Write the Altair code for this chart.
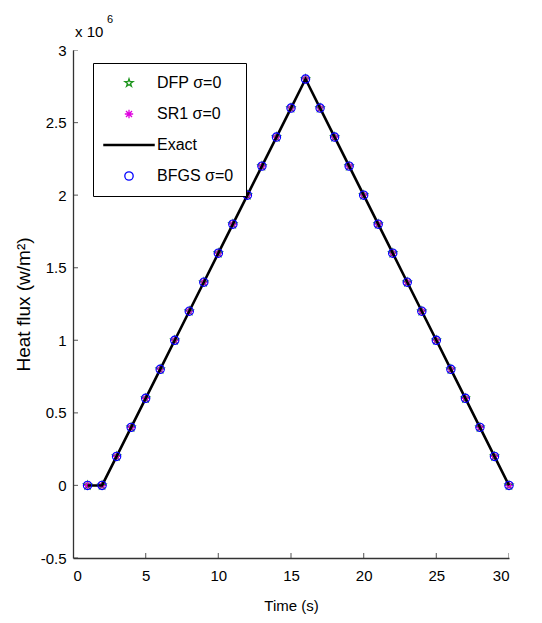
import altair as alt
import pandas as pd

# Time (s)
t = list(range(1, 31))
# Heat flux, in units of 10^6 W/m^2
exact = [0.0, 0.0, 0.2, 0.4, 0.6, 0.8, 1.0, 1.2, 1.4, 1.6, 1.8, 2.0, 2.2, 2.4, 2.6, 2.8,
         2.6, 2.4, 2.2, 2.0, 1.8, 1.6, 1.4, 1.2, 1.0, 0.8, 0.6, 0.4, 0.2, 0.0]
dfp = [0.0, 0.0, 0.2, 0.4, 0.6, 0.8, 1.0, 1.2, 1.4, 1.6, 1.8, 2.0, 2.2, 2.4, 2.6, 2.8,
       2.6, 2.4, 2.2, 2.0, 1.8, 1.6, 1.4, 1.2, 1.0, 0.8, 0.6, 0.4, 0.2, 0.0]
sr1 = [0.0, 0.0, 0.2, 0.4, 0.6, 0.8, 1.0, 1.2, 1.4, 1.6, 1.8, 2.0, 2.2, 2.4, 2.6, 2.8,
       2.6, 2.4, 2.2, 2.0, 1.8, 1.6, 1.4, 1.2, 1.0, 0.8, 0.6, 0.4, 0.2, 0.0]
bfgs = [0.0, 0.0, 0.2, 0.4, 0.6, 0.8, 1.0, 1.2, 1.4, 1.6, 1.8, 2.0, 2.2, 2.4, 2.6, 2.8,
        2.6, 2.4, 2.2, 2.0, 1.8, 1.6, 1.4, 1.2, 1.0, 0.8, 0.6, 0.4, 0.2, 0.0]

series_names = ["DFP σ=0", "SR1 σ=0", "Exact", "BFGS σ=0"]
series_colors = ["#1e961e", "#e000e0", "#000000", "#0000ff"]
x_ticks = [0, 5, 10, 15, 20, 25, 30]
y_ticks = [-0.5, 0, 0.5, 1, 1.5, 2, 2.5, 3]

STAR = ("M0,-1L0.2245,-0.309L0.9511,-0.309L0.3633,0.118L0.5878,0.809L0,0.382"
        "L-0.5878,0.809L-0.3633,0.118L-0.9511,-0.309L-0.2245,-0.309Z")
ASTER = "M0,-1L0,1M-1,0L1,0M-0.72,-0.72L0.72,0.72M-0.72,0.72L0.72,-0.72"
BAR = "M-6,-0.15L6,-0.15L6,0.15L-6,0.15Z"
series_shapes = [STAR, ASTER, BAR, "circle"]

FONT = "Liberation Sans"
AXIS_COLOR = "#333333"

pts_a = pd.DataFrame({"t": t * 2, "q": dfp + sr1,
                      "series": [series_names[0]] * 30 + [series_names[1]] * 30})
pts_b = pd.DataFrame({"t": t, "q": bfgs, "series": [series_names[3]] * 30})
line_df = pd.DataFrame({"t": t, "q": exact})

xs = alt.Scale(domain=[0, 30], nice=False, zero=False)
ys = alt.Scale(domain=[-0.5, 3], nice=False, zero=False)

legend = alt.Legend(
    title=None, orient="none", legendX=20, legendY=13,
    strokeColor="black", fillColor="white", padding=12,
    labelFont=FONT, labelFontSize=16, labelColor="black",
    labelOffset=20, symbolOffset=16, rowPadding=15,
    symbolStrokeWidth=1.3, symbolSize=70, symbolOpacity=1,
)
color_enc = alt.Color("series:N", scale=alt.Scale(domain=series_names, range=series_colors), legend=legend)
shape_enc = alt.Shape("series:N", scale=alt.Scale(domain=series_names, range=series_shapes), legend=legend)

x_enc = alt.X("t:Q", scale=xs, axis=alt.Axis(
    title="Time (s)", values=x_ticks, ticks=False, grid=False,
    domainColor=AXIS_COLOR, domainWidth=1.3, labelFont=FONT, labelFontSize=15,
    labelColor="black", labelPadding=10, titleFont=FONT, titleFontSize=15,
    titleFontWeight="normal", titleColor="black", titlePadding=15,
    labelExpr="'' + datum.value"))
y_enc = alt.Y("q:Q", scale=ys, axis=alt.Axis(
    title="Heat flux (w/m²)", values=y_ticks, ticks=False, grid=False,
    domainColor=AXIS_COLOR, domainWidth=1.3, labelFont=FONT, labelFontSize=15,
    labelColor="black", labelPadding=7, titleFont=FONT, titleFontSize=19,
    titleFontWeight="normal", titleColor="black", titlePadding=7,
    labelExpr="'' + datum.value"))

layer_a = alt.Chart(pts_a).mark_point(filled=False, size=70, strokeWidth=1.1, opacity=1).encode(
    x=x_enc, y=y_enc, color=color_enc, shape=shape_enc)
line = alt.Chart(line_df).mark_line(color="black", strokeWidth=2.6).encode(
    x=alt.X("t:Q", scale=xs), y=alt.Y("q:Q", scale=ys))
layer_b = alt.Chart(pts_b).mark_point(filled=False, size=70, strokeWidth=1.1, opacity=1).encode(
    x=alt.X("t:Q", scale=xs), y=alt.Y("q:Q", scale=ys), color=color_enc, shape=shape_enc)

xt = pd.DataFrame({"t": x_ticks, "q": [-0.5] * len(x_ticks)})
yt = pd.DataFrame({"t": [0] * len(y_ticks), "q": y_ticks})
xtick_layer = alt.Chart(xt).mark_tick(orient="vertical", size=10, thickness=1.2,
                                      color=AXIS_COLOR, clip=True).encode(
    x=alt.X("t:Q", scale=xs), y=alt.Y("q:Q", scale=ys))
ytick_layer = alt.Chart(yt).mark_tick(orient="horizontal", size=10, thickness=1.2,
                                      color=AXIS_COLOR, clip=True).encode(
    x=alt.X("t:Q", scale=xs), y=alt.Y("q:Q", scale=ys))

one = pd.DataFrame({"k": [0]})
exp_base = alt.Chart(one).mark_text(font=FONT, fontSize=15, align="left",
                                    baseline="alphabetic", color="black").encode(
    x=alt.value(2), y=alt.value(-13), text=alt.value("x 10"))
exp_sup = alt.Chart(one).mark_text(font=FONT, fontSize=11, align="left",
                                   baseline="alphabetic", color="black").encode(
    x=alt.value(34), y=alt.value(-27), text=alt.value("6"))

chart = alt.layer(layer_a, line, layer_b, xtick_layer, ytick_layer, exp_base, exp_sup).properties(
    width=436, height=508,
    autosize=alt.AutoSizeParams(type="none"),
    padding={"left": 73, "top": 50, "right": 33, "bottom": 65},
    background="white",
).configure_view(stroke=None)

chart.save("out.html", embed_options={"renderer": "svg", "actions": False})
